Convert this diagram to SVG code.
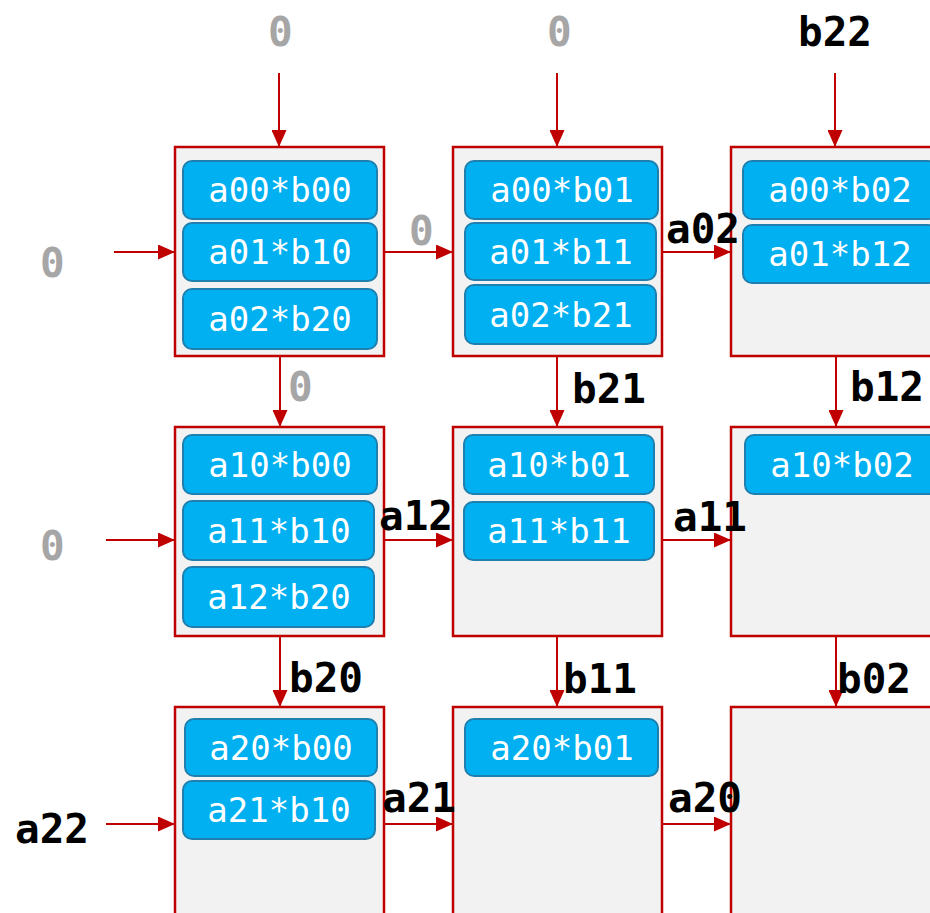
<svg xmlns="http://www.w3.org/2000/svg" width="930" height="913" viewBox="0 0 930 913">
  <style>
    .cell { fill: #F2F2F2; stroke: #C00000; stroke-width: 2.5; }
    .term rect { fill: #00B0F0; stroke: #1F7FAE; stroke-width: 2; }
    .term text { fill: #FFFFFF; font-family: "DejaVu Sans Mono", "Liberation Mono", monospace; font-size: 34px; text-anchor: middle; }
    .wire { stroke: #C00000; stroke-width: 2; fill: none; marker-end: url(#head); }
    .lbl { font-family: "DejaVu Sans Mono", "Liberation Mono", monospace; font-size: 41px; font-weight: bold; fill: #000000; }
    .zero { fill: #A6A6A6; }
  </style>
  <defs>
    <marker id="head" viewBox="0 0 17 15" refX="17" refY="7.5" markerWidth="17" markerHeight="15" markerUnits="userSpaceOnUse" orient="auto">
      <path d="M0,0 L17,7.5 L0,15 z" fill="#C00000"/>
    </marker>
  </defs>

  <rect width="930" height="913" fill="#FFFFFF"/>

  <!-- connectors -->
  <g id="connectors">
    <line class="wire" x1="279" y1="73" x2="279" y2="147"/>
    <line class="wire" x1="557" y1="73" x2="557" y2="147"/>
    <line class="wire" x1="835" y1="73" x2="835" y2="147"/>

    <line class="wire" x1="114" y1="252" x2="175" y2="252"/>
    <line class="wire" x1="384" y1="252" x2="453" y2="252"/>
    <line class="wire" x1="662" y1="252" x2="731" y2="252"/>

    <line class="wire" x1="280" y1="356" x2="280" y2="427"/>
    <line class="wire" x1="557" y1="356" x2="557" y2="427"/>
    <line class="wire" x1="836" y1="356" x2="836" y2="427"/>

    <line class="wire" x1="106" y1="540" x2="175" y2="540"/>
    <line class="wire" x1="384" y1="540" x2="453" y2="540"/>
    <line class="wire" x1="662" y1="540" x2="731" y2="540"/>

    <line class="wire" x1="280" y1="636" x2="280" y2="707"/>
    <line class="wire" x1="557" y1="636" x2="557" y2="707"/>
    <line class="wire" x1="836" y1="636" x2="836" y2="707"/>

    <line class="wire" x1="106" y1="824" x2="175" y2="824"/>
    <line class="wire" x1="384" y1="824" x2="453" y2="824"/>
    <line class="wire" x1="662" y1="824" x2="731" y2="824"/>
  </g>

  <!-- processing elements, row 0 -->
  <g id="pe00">
    <rect class="cell" x="175" y="147" width="209" height="209"/>
    <g class="term"><rect x="183" y="161" width="194" height="58" rx="9"/><text x="280" y="202">a00*b00</text></g>
    <g class="term"><rect x="183" y="223" width="194" height="58" rx="9"/><text x="280" y="264">a01*b10</text></g>
    <g class="term"><rect x="183" y="289" width="194" height="60" rx="9"/><text x="280" y="331">a02*b20</text></g>
  </g>
  <g id="pe01">
    <rect class="cell" x="453" y="147" width="209" height="209"/>
    <g class="term"><rect x="465" y="161" width="193" height="58" rx="9"/><text x="562" y="202">a00*b01</text></g>
    <g class="term"><rect x="465" y="223" width="191" height="57" rx="9"/><text x="561" y="264">a01*b11</text></g>
    <g class="term"><rect x="465" y="285" width="191" height="59" rx="9"/><text x="561" y="327">a02*b21</text></g>
  </g>
  <g id="pe02">
    <rect class="cell" x="731" y="147" width="209" height="209"/>
    <g class="term"><rect x="743" y="161" width="194" height="58" rx="9"/><text x="840" y="202">a00*b02</text></g>
    <g class="term"><rect x="743" y="225" width="194" height="58" rx="9"/><text x="840" y="266">a01*b12</text></g>
  </g>

  <!-- processing elements, row 1 -->
  <g id="pe10">
    <rect class="cell" x="175" y="427" width="209" height="209"/>
    <g class="term"><rect x="183" y="435" width="194" height="59" rx="9"/><text x="280" y="477">a10*b00</text></g>
    <g class="term"><rect x="183" y="501" width="191" height="59" rx="9"/><text x="279" y="543">a11*b10</text></g>
    <g class="term"><rect x="183" y="567" width="191" height="60" rx="9"/><text x="279" y="609">a12*b20</text></g>
  </g>
  <g id="pe11">
    <rect class="cell" x="453" y="427" width="209" height="209"/>
    <g class="term"><rect x="464" y="435" width="190" height="59" rx="9"/><text x="559" y="477">a10*b01</text></g>
    <g class="term"><rect x="464" y="502" width="190" height="58" rx="9"/><text x="559" y="543">a11*b11</text></g>
  </g>
  <g id="pe12">
    <rect class="cell" x="731" y="427" width="209" height="209"/>
    <g class="term"><rect x="745" y="435" width="194" height="59" rx="9"/><text x="842" y="477">a10*b02</text></g>
  </g>

  <!-- processing elements, row 2 -->
  <g id="pe20">
    <rect class="cell" x="175" y="707" width="209" height="209"/>
    <g class="term"><rect x="185" y="719" width="192" height="57" rx="9"/><text x="281" y="760">a20*b00</text></g>
    <g class="term"><rect x="183" y="781" width="192" height="58" rx="9"/><text x="279" y="822">a21*b10</text></g>
  </g>
  <g id="pe21">
    <rect class="cell" x="453" y="707" width="209" height="209"/>
    <g class="term"><rect x="465" y="719" width="193" height="57" rx="9"/><text x="562" y="760">a20*b01</text></g>
  </g>
  <g id="pe22">
    <rect class="cell" x="731" y="707" width="209" height="209"/>
  </g>

  <!-- operand labels -->
  <g id="labels">
    <text class="lbl zero" x="268" y="46">0</text>
    <text class="lbl zero" x="547" y="46">0</text>
    <text class="lbl" x="798" y="46">b22</text>

    <text class="lbl zero" x="40" y="277">0</text>
    <text class="lbl zero" x="40" y="560">0</text>
    <text class="lbl" x="15" y="843">a22</text>

    <text class="lbl zero" x="409" y="245">0</text>
    <text class="lbl" x="666" y="243">a02</text>
    <text class="lbl" x="379" y="530">a12</text>
    <text class="lbl" x="673" y="531">a11</text>
    <text class="lbl" x="382" y="812">a21</text>
    <text class="lbl" x="668" y="812">a20</text>

    <text class="lbl zero" x="288" y="401">0</text>
    <text class="lbl" x="572" y="403">b21</text>
    <text class="lbl" x="850" y="401">b12</text>
    <text class="lbl" x="289" y="692">b20</text>
    <text class="lbl" x="563" y="693">b11</text>
    <text class="lbl" x="837" y="693">b02</text>
  </g>
</svg>
